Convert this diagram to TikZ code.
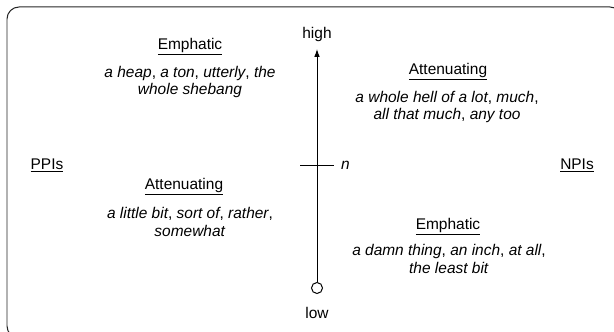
\documentclass[tikz,border=0pt]{standalone}
\usepackage{fontspec}
\setmainfont{Liberation Sans}
\usetikzlibrary{arrows.meta,positioning}

\begin{document}
\begin{tikzpicture}[
  x=0.03cm, y=0.03cm,
  every node/.style={font=\fontsize{13.2pt}{15.2pt}\selectfont},
  heading/.style={inner sep=0pt},
  examples/.style={
    align=center,
    inner sep=0pt
  },
  scale line/.style={line width=0.85pt, black},
  bottom/.style={
    circle,
    draw=black,
    line width=0.85pt,
    minimum size=0.33cm,
    inner sep=0pt
  }
]
\useasboundingbox (0,0) rectangle (614,331);
\clip (0,0) rectangle (614,331);

% frame, partly outside the page
\draw[line width=0.85pt, black!85, rounded corners=0.36cm] (7,324) rectangle (622,-7);

% scale
\node[bottom] (lowend) at (317,43) {};
\coordinate (topend) at (317,282);
\node (high) at (317,296) {high};
\node (low) at (317,18) {low};
\draw[scale line, -{Latex[length=0.24cm, width=0.17cm]}] (lowend.north) -- (topend);
\coordinate (tickL) at (300,166);
\coordinate (tickR) at (334,166);
\draw[scale line] (tickL) -- (tickR);
\node[anchor=west, inner sep=0pt] (norm) at (341,166) {\itshape n};

% sides
\node[heading] (ppi) at (47,166) {\underline{PPIs}};
\node[heading] (npi) at (577,166) {\underline{NPIs}};

% upper left
\node[heading] (empUL) at (190,284) {\underline{Emphatic}};
\node[examples] (exUL) at (190,249) {\textit{a heap}, \textit{a ton}, \textit{utterly}, \textit{the}\\\textit{whole shebang}};

% upper right
\node[heading] (attUR) at (448,259) {\underline{Attenuating}};
\node[examples] (exUR) at (447,224) {\textit{a whole hell of a lot}, \textit{much},\\\textit{all that much}, \textit{any too}};

% lower left
\node[heading] (attLL) at (184,144) {\underline{Attenuating}};
\node[examples] (exLL) at (190,109) {\textit{a little bit}, \textit{sort of}, \textit{rather},\\\textit{somewhat}};

% lower right
\node[heading] (empLR) at (448,104) {\underline{Emphatic}};
\node[examples] (exLR) at (449,72) {\textit{a damn thing}, \textit{an inch}, \textit{at all},\\\textit{the least bit}};

\end{tikzpicture}
\end{document}
